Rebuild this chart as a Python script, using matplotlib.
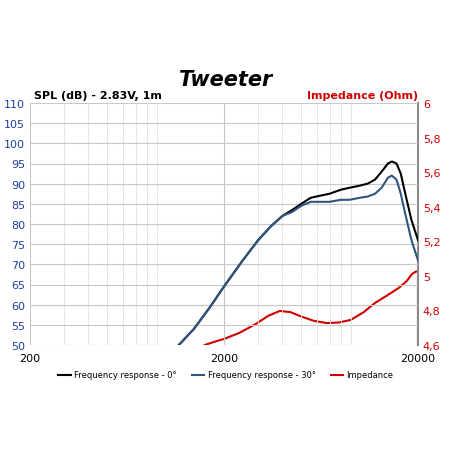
import numpy as np
import matplotlib
matplotlib.use("Agg")
import matplotlib.pyplot as plt
from matplotlib.ticker import LogLocator, NullFormatter

f_spl = [1170, 1400, 1700, 2000, 2500, 3000, 3500, 4000, 4500, 5000, 5600, 6240, 7000, 8000, 8900, 10000, 11000, 12000, 13000, 14000, 14660, 15500, 16300, 17100, 18500, 20000]
spl0 = [50, 54, 59.5, 64.5, 71, 76, 79.5, 82, 83.5, 85, 86.5, 87, 87.5, 88.5, 89, 89.5, 90, 91, 93, 95, 95.5, 95, 92.5, 88, 81, 76]
spl30 = [50, 54, 59.5, 64.5, 71, 76, 79.5, 82, 83, 84.5, 85.5, 85.5, 85.5, 86, 86, 86.5, 86.8, 87.5, 89, 91.5, 92, 91, 87.5, 83, 76, 71]
f_imp = [1590, 1800, 2000, 2400, 2900, 3400, 3880, 4400, 5000, 5800, 6760, 7800, 9000, 10500, 12000, 14000, 15900, 17500, 18600, 19500, 20000, 20000]
imp = [4.6, 4.62, 4.635, 4.67, 4.72, 4.77, 4.797, 4.79, 4.765, 4.74, 4.727, 4.73, 4.745, 4.79, 4.843, 4.89, 4.93, 4.97, 5.01, 5.025, 5.025, 4.6]
imp_ticks = ["4,6", "4,8", "5", "5,2", "5,4", "5,6", "5,8", "6"]

fig = plt.figure(figsize=(4.52, 4.52), dpi=100)
ax = fig.add_axes([30/452, 1-346/452, 388/452, 242/452])
h1, = ax.plot(f_spl, spl0, color="black", lw=1.5, label="Frequency response - 0°")
h2, = ax.plot(f_spl, spl30, color="#2f5580", lw=1.5, label="Frequency response - 30°")
ax2 = ax.twinx()
h3, = ax2.plot(f_imp, imp, color="#d00000", lw=1.5, label="Impedance")
ax.set_xscale("log")
ax.set_xlim(200, 20000)
ax.set_ylim(50, 110)
ax2.set_ylim(4.6, 6.0)
ax.set_xticks([200, 2000, 20000])
ax.set_xticklabels(["200", "2000", "20000"])
ax.xaxis.set_minor_locator(LogLocator(base=10, subs=np.arange(2, 10)))
ax.xaxis.set_minor_formatter(NullFormatter())
ax.set_yticks(np.arange(50, 111, 5))
ax2.set_yticks(np.linspace(4.6, 6.0, 8))
ax2.set_yticklabels(imp_ticks)
ax.grid(True, which="major", color="#c8c8c8", lw=0.8)
ax.grid(True, which="minor", axis="x", color="#e2e2e2", lw=0.6)
ax.tick_params(axis="y", colors="#1f3fa0", labelsize=8, length=0)
ax.tick_params(axis="x", labelsize=8, length=0, pad=6)
ax.tick_params(axis="x", which="minor", length=0)
ax2.tick_params(axis="y", colors="#d00000", labelsize=8, length=0)
for a in (ax, ax2):
    for s in a.spines.values():
        s.set_visible(False)
ax2.spines["right"].set_visible(True)
ax2.spines["right"].set_color("#888888")
ax2.spines["right"].set_linewidth(1.5)
ax.set_zorder(ax2.get_zorder()+1); ax.patch.set_visible(False)
fig.text(0.5, 1-80/452, "Tweeter", ha="center", va="center", fontsize=15, fontweight="bold", style="italic")
fig.text(34/452, 1-96/452, "SPL (dB) - 2.83V, 1m", ha="left", va="center", fontsize=8, fontweight="bold")
fig.text(418/452, 1-96/452, "Impedance (Ohm)", ha="right", va="center", fontsize=8, fontweight="bold", color="#d00000")
fig.legend(handles=[h1, h2, h3], loc="center", bbox_to_anchor=(0.5, 1-376/452), ncol=3, frameon=False,
           fontsize=6, handlelength=1.5, handletextpad=0.4, columnspacing=1.8)
fig.savefig("out.png", dpi=100, facecolor="white")
